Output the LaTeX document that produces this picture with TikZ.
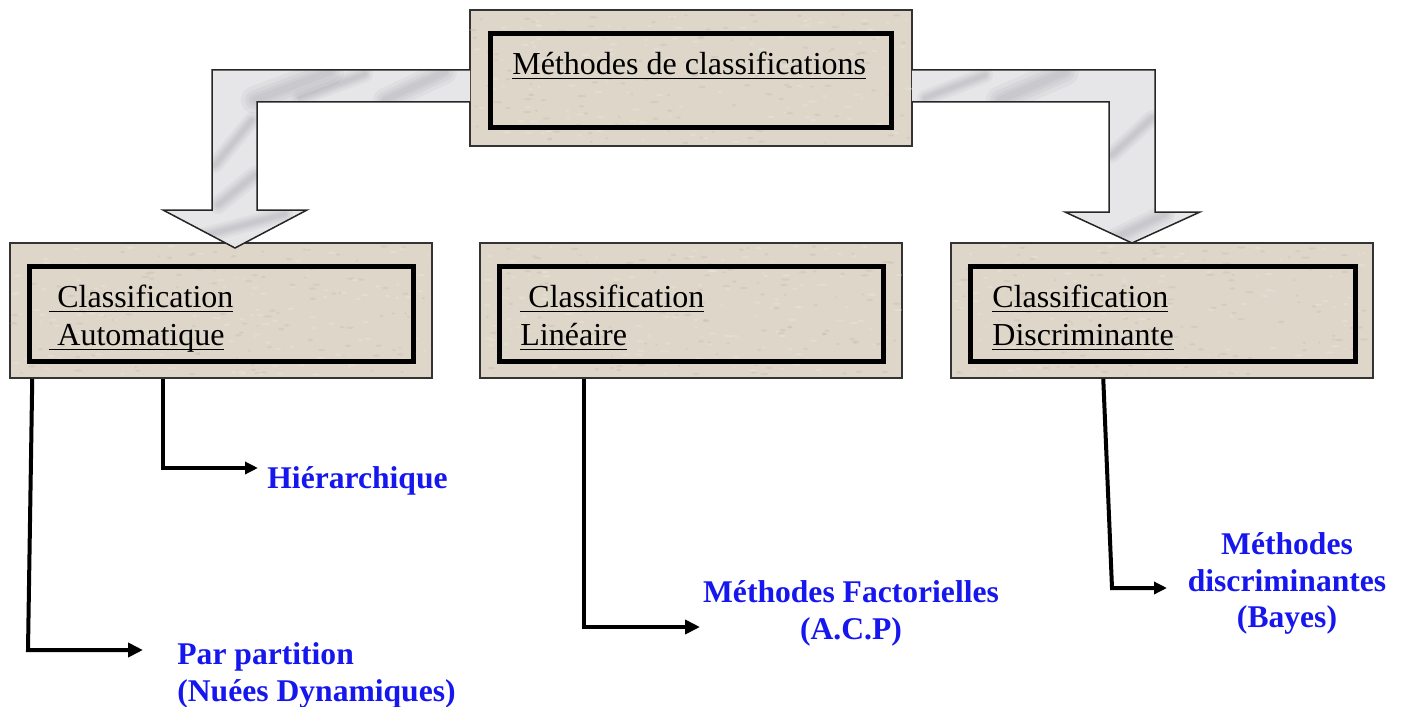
\documentclass[tikz,border=0pt]{standalone}
\usepackage{fontspec}
\setmainfont{Liberation Serif}
\usetikzlibrary{arrows.meta,fit}

\definecolor{stone}{RGB}{222,214,201}
\definecolor{stonedark}{RGB}{200,191,177}
\definecolor{stonelight}{RGB}{232,226,216}
\definecolor{marble}{RGB}{230,230,233}
\definecolor{vein}{RGB}{120,120,126}
\definecolor{labelblue}{RGB}{22,22,238}

% underlined text (the rule spans the whole box, leading space included)
\newsavebox\ulinebox
\newcommand\uline[1]{\sbox\ulinebox{#1}\rlap{\rule[-2pt]{\wd\ulinebox}{0.7pt}}\usebox\ulinebox}

% grainy stone texture inside a rectangle
\newcommand\speckle[4]{%
  \foreach \i in {1,...,260}{%
    \pgfmathsetmacro\sx{#1+rnd*(#3-#1)}%
    \pgfmathsetmacro\sy{#2+rnd*(#4-#2)}%
    \pgfmathsetmacro\sw{0.6+rnd*1.6}%
    \ifodd\i
      \fill[stonedark, opacity=0.4] (\sx,\sy) ellipse[x radius=\sw pt, y radius=0.6pt];
    \else
      \fill[stonelight, opacity=0.5] (\sx,\sy) ellipse[x radius=\sw pt, y radius=0.6pt];
    \fi
  }}

% soft grey vein of the marble: several wide, faint strokes on top of each other
\newcommand\softvein[3]{%
  \foreach \f in {1,0.7,0.45,0.25}{%
    \draw[vein, line cap=round, opacity=0.07, line width=\f*#3] #1 -- #2;
  }}

\tikzset{
  outerbox/.style={draw=black!80, line width=0.75pt, fill=stone, rectangle, inner sep=0pt},
  innerbox/.style={draw=black, line width=2.5pt, rectangle, inner sep=0pt},
  boxfont/.style={font=\fontsize{16}{19}\selectfont},
  boxtext/.style={boxfont, anchor=north west, inner sep=0pt, align=left},
  leaf/.style={inner sep=0pt, text=labelblue, font=\fontsize{15.8}{18.2}\selectfont\bfseries},
  link/.style={line width=2pt, line join=miter, -{Triangle[length=7.5pt,width=7pt]}},
  smalllink/.style={line width=2pt, line join=miter, -{Triangle[length=6.5pt,width=6pt]}},
  blockarrow/.style={draw=black!85, line width=0.75pt, line join=miter},
}

\begin{document}
\begin{tikzpicture}[x=0.5pt, y=-0.5pt]
\useasboundingbox (0,0) rectangle (1401,706);
\pgfmathsetseed{7}

% ---------- top box ----------
\node[outerbox, fit={(470,10) (912,146)}] (top) {};
\speckle{473}{13}{909}{143}
\node[innerbox, fit={(490,34) (891,127)}] (top-in) {};
\node[boxfont, anchor=base west, inner sep=0pt] (top-txt) at (512,75)
  {\uline{Méthodes de classifications}};

% ---------- second level boxes ----------
\node[outerbox, fit={(10,243) (432,378)}] (autom) {};
\speckle{13}{246}{429}{375}
\node[innerbox, fit={(29,266) (413,361)}] (autom-in) {};
\node[boxtext] (autom-txt) at (49,285) {\uline{\ Classification}\\\uline{\ Automatique}};

\node[outerbox, fit={(480,243) (902,378)}] (lin) {};
\speckle{483}{246}{899}{375}
\node[innerbox, fit={(499,266) (883,361)}] (lin-in) {};
\node[boxtext] (lin-txt) at (520,285) {\uline{\ Classification}\\\uline{Linéaire}};

\node[outerbox, fit={(951,243) (1373,378)}] (disc) {};
\speckle{954}{246}{1370}{375}
\node[innerbox, fit={(970,266) (1355,361)}] (disc-in) {};
\node[boxtext] (disc-txt) at (992,285) {\uline{Classification}\\\uline{Discriminante}};

% ---------- marble block arrows ----------
\def\leftarrowpath{(470,70) -- (212,70) -- (212,210) -- (163,210) -- (235,248) -- (307,210) -- (257,210) -- (257,102) -- (470,102) -- cycle}
\def\rightarrowpath{(912,70) -- (1155,70) -- (1155,212) -- (1200,212) -- (1132,243) -- (1065,212) -- (1109,212) -- (1109,102) -- (912,102) -- cycle}

\begin{scope}
  \clip \leftarrowpath;
  \fill[marble] (150,60) rectangle (480,250);
  \softvein{(255,100)}{(330,72)}{14pt}
  \softvein{(300,98)}{(365,74)}{8pt}
  \softvein{(385,100)}{(445,72)}{12pt}
  \softvein{(215,165)}{(252,120)}{8pt}
  \softvein{(218,205)}{(255,175)}{9pt}
  \softvein{(195,238)}{(285,214)}{8pt}
\end{scope}
\draw[blockarrow] (470,70) -- (212,70) -- (212,210) -- (163,210) -- (235,248) -- (307,210) -- (257,210) -- (257,102) -- (470,102);

\begin{scope}
  \clip \rightarrowpath;
  \fill[marble] (905,60) rectangle (1210,250);
  \softvein{(1000,100)}{(1065,72)}{14pt}
  \softvein{(925,98)}{(985,75)}{8pt}
  \softvein{(1112,155)}{(1152,118)}{8pt}
  \softvein{(1115,238)}{(1165,214)}{10pt}
\end{scope}
\draw[blockarrow] (912,70) -- (1155,70) -- (1155,212) -- (1200,212) -- (1132,243) -- (1065,212) -- (1109,212) -- (1109,102) -- (912,102);

% ---------- leaves ----------
\node[leaf, anchor=base west] (hier) at (267,488) {Hiérarchique};
\node[leaf, anchor=north west, align=left] (part) at (177,642.5) {Par partition\\(Nuées Dynamiques)};
\node[leaf, anchor=north, align=center] (fact) at (851,580.5) {Méthodes Factorielles\\(A.C.P)};
\node[leaf, anchor=north, align=center] (bayes) at (1287,532.5) {Méthodes\\discriminantes\\(Bayes)};

% arrow ends in front of the leaf labels
\coordinate (kPart) at (28,650);
\coordinate (tPart) at (143,650);
\coordinate (tHier) at (258,468);
\coordinate (tFact) at (700,627);
\coordinate (kBayes) at (1112,588);
\coordinate (tBayes) at (1167,588);

% ---------- connectors ----------
\draw[link] ([xshift=11.5pt]autom.south west) -- (kPart) -- (tPart);
\draw[smalllink] ([xshift=77pt]autom.south west) |- (tHier);
\draw[link] ([xshift=52.5pt]lin.south west) |- (tFact);
\draw[smalllink] ([xshift=76.5pt]disc.south west) -- (kBayes) -- (tBayes);
\end{tikzpicture}
\end{document}
